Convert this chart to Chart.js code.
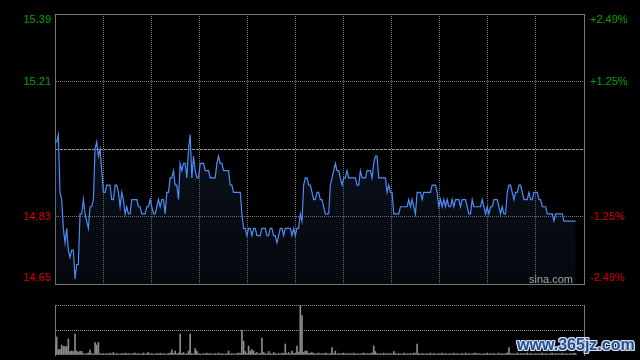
<!DOCTYPE html>
<html><head><meta charset="utf-8">
<script src="https://cdn.jsdelivr.net/npm/chart.js@4/dist/chart.umd.min.js"></script>
<style>
html,body{margin:0;padding:0;background:#000;width:640px;height:360px;overflow:hidden;}
#c1{position:absolute;left:0;top:0;}
#c2{position:absolute;left:0;top:300px;}
#wm{position:absolute;left:517px;top:336px;font:bold 16px "Liberation Sans",Arial,sans-serif;color:#1f4f98;
text-shadow:-1px -1px 0 #d8dee8,1px -1px 0 #d8dee8,-1px 1px 0 #d8dee8,1px 1px 0 #d8dee8,0 1px 0 #d8dee8,0 -1px 0 #d8dee8,1px 0 0 #d8dee8,-1px 0 0 #d8dee8;}
</style></head><body>
<canvas id="c1" width="640" height="300"></canvas>
<canvas id="c2" width="640" height="60"></canvas>
<div id="wm">www.365jz.com</div>
<script>
// ---- data ----
const prevClose = 15.02;
const priceTicks = [14.646, 14.833, 15.02, 15.207, 15.394];
const priceTickLabels = ['14.65', '14.83', '', '15.21', '15.39'];
const pctTickLabels = ['-2.49%', '-1.25%', '', '+1.25%', '+2.49%'];
const sessionMinutes = [0, 330];   // HK session length, grid every 30 min
const sessionStep = 30;
const volTicks = [0, 50, 100];
const slotCount = 318;
const slots = Array.from({length: slotCount}, (_, i) => String(i));

const prices = [
15.04,15.04,15.06,14.90,14.88,14.80,14.76,14.80,14.74,14.72,
14.74,14.74,14.66,14.70,14.70,14.84,14.84,14.88,14.84,14.82,
14.80,14.86,14.86,14.88,15.02,15.04,15.00,15.02,14.96,14.90,
14.90,14.92,14.92,14.92,14.88,14.88,14.92,14.92,14.90,14.86,
14.90,14.88,14.84,14.86,14.84,14.84,14.88,14.88,14.88,14.88,
14.86,14.86,14.84,14.84,14.84,14.86,14.86,14.88,14.86,14.84,
14.84,14.86,14.88,14.86,14.88,14.88,14.84,14.90,14.90,14.94,
14.94,14.96,14.92,14.92,14.88,14.98,14.96,14.98,14.98,14.94,
15.02,15.06,14.94,15.00,14.96,14.94,14.94,14.98,14.98,14.98,
14.96,14.96,14.96,14.94,14.94,14.94,14.94,14.98,15.00,14.98,
14.98,14.96,14.96,14.96,14.96,14.92,14.92,14.90,14.90,14.90,
14.90,14.90,14.84,14.80,14.80,14.78,14.80,14.80,14.78,14.80,
14.80,14.78,14.78,14.78,14.80,14.80,14.80,14.78,14.78,14.80,
14.80,14.78,14.78,14.76,14.78,14.80,14.80,14.78,14.80,14.80,
14.80,14.80,14.78,14.80,14.78,14.80,14.80,14.84,14.82,14.92,
14.94,14.94,14.92,14.92,14.90,14.88,14.88,14.90,14.90,14.88,
14.88,14.86,14.84,14.84,14.84,14.92,14.94,14.96,14.98,14.96,
14.96,14.94,14.92,14.94,14.94,14.96,14.94,14.94,14.94,14.94,
14.94,14.92,14.92,14.96,14.94,14.94,14.94,14.96,14.96,14.96,
14.94,14.98,15.00,15.00,14.94,14.94,14.94,14.94,14.94,14.90,
14.92,14.90,14.90,14.84,14.84,14.84,14.84,14.86,14.86,14.86,
14.86,14.86,14.88,14.86,14.88,14.86,14.84,14.90,14.90,14.90,
14.88,14.90,14.90,14.90,14.90,14.90,14.92,14.92,14.92,14.90,
14.86,14.88,14.86,14.88,14.86,14.88,14.86,14.86,14.88,14.86,
14.88,14.88,14.88,14.86,14.88,14.88,14.88,14.86,14.84,14.84,
14.88,14.86,14.86,14.86,14.86,14.86,14.88,14.86,14.84,14.86,
14.84,14.86,14.86,14.88,14.88,14.88,14.86,14.84,14.86,14.84,
14.84,14.90,14.92,14.92,14.90,14.88,14.90,14.90,14.92,14.92,
14.90,14.88,14.88,14.88,14.90,14.88,14.88,14.90,14.90,14.90,
14.88,14.88,14.86,14.86,14.86,14.84,14.84,14.84,14.84,14.82,
14.84,14.84,14.84,14.84,14.84,14.82,14.82,14.82,14.82,14.82,
14.82,14.82,14.82
];

const volumes = [
18,36,11,11,20,17,17,17,32,7,
8,7,42,8,5,8,7,3,2,3,
4,10,3,2,25,20,25,3,2,3,
2,3,2,4,2,5,2,3,2,2,
3,2,4,2,3,2,2,3,4,2,
3,2,2,4,2,3,5,2,3,2,
2,3,2,4,2,3,2,2,3,4,
10,3,8,2,4,42,3,5,2,3,
8,42,3,2,13,8,3,2,2,3,
2,4,2,3,2,2,3,2,4,2,
3,2,2,3,8,2,3,2,2,3,
4,3,50,28,7,3,18,8,11,8,
3,5,2,3,34,5,3,2,7,3,
2,5,3,2,3,2,4,3,22,3,
5,2,8,3,4,18,6,100,79,5,
8,8,3,4,5,3,2,3,4,2,
3,2,4,3,2,3,15,3,8,2,
3,2,3,4,2,3,2,3,2,4,
2,3,2,2,3,4,2,3,2,3,
4,18,7,3,2,3,2,4,2,3,
2,3,2,7,3,2,3,2,2,4,
2,3,2,3,2,4,3,22,3,2,
3,2,2,3,2,4,2,3,2,2,
3,2,4,2,3,2,2,3,2,4,
2,3,2,2,3,2,4,2,3,2,
2,3,4,2,3,2,2,3,2,4,
2,3,2,3,2,2,4,2,3,2,
3,4,15,3,2,3,2,4,2,3,
2,3,2,4,2,3,2,2,3,2,
3,2,4,2,3,2,2,3,4,2,
3,2,3,2,4,2,3,2,2,3,
2,4,3
];

// ---- styles ----
const upColor = '#00a400';
const downColor = '#e00000';
const frameColor = '#767676';
const dotColor = '#7a7a7a';
const FONT = '11px "Liberation Sans", Arial, sans-serif';

function priceDash(ctx) {
  if (!ctx.tick) return [];
  const v = ctx.tick.value;
  if (v === priceTicks[0] || v === priceTicks[priceTicks.length - 1]) return [];
  if (v === prevClose) return [3, 1];
  return [1, 1];
}
function priceGridColor(ctx) {
  if (!ctx.tick) return frameColor;
  const v = ctx.tick.value;
  if (v === priceTicks[0] || v === priceTicks[priceTicks.length - 1]) return frameColor;
  if (v === prevClose) return '#9a9a9a';
  return dotColor;
}
function timeDash(ctx) {
  if (!ctx.tick) return [];
  const v = ctx.tick.value;
  if (v === sessionMinutes[0] || v === sessionMinutes[1]) return [];
  return [1, 1];
}

const sideLabels = {
  id: 'sideLabels',
  afterDraw(chart) {
    const {ctx, chartArea, scales} = chart;
    const y = scales.y;
    ctx.save();
    ctx.font = FONT;
    ctx.textBaseline = 'middle';
    priceTicks.forEach((v, i) => {
      if (!priceTickLabels[i]) return;
      let py = y.getPixelForValue(v);
      py = Math.min(Math.max(py, chartArea.top + 6), chartArea.bottom - 6);
      ctx.fillStyle = v > prevClose ? upColor : downColor;
      ctx.textAlign = 'right';
      ctx.fillText(priceTickLabels[i], chartArea.left - 4, py);
      ctx.textAlign = 'left';
      ctx.fillText(pctTickLabels[i], chartArea.right + 6, py);
    });
    ctx.fillStyle = '#a4a4a4';
    ctx.textAlign = 'right';
    ctx.textBaseline = 'alphabetic';
    ctx.fillText('sina.com', chartArea.right - 11, chartArea.bottom - 1);
    ctx.restore();
  }
};

new Chart(document.getElementById('c1'), {
  type: 'line',
  data: {
    labels: slots,
    datasets: [{
      data: prices,
      borderColor: '#4b8df6',
      borderWidth: 1.2,
      pointRadius: 0,
      tension: 0,
      fill: 'start',
      backgroundColor: (c) => {
        const {ctx, chartArea} = c.chart;
        if (!chartArea) return 'rgba(40,70,120,0.2)';
        const g = ctx.createLinearGradient(0, chartArea.top, 0, chartArea.bottom);
        g.addColorStop(0, 'rgba(55,85,150,0.32)');
        g.addColorStop(1, 'rgba(30,45,80,0.16)');
        return g;
      }
    }]
  },
  options: {
    responsive: false,
    animation: false,
    devicePixelRatio: 1,
    layout: {padding: {top: 14, bottom: 16, left: 0, right: 0}},
    plugins: {legend: {display: false}, tooltip: {enabled: false}},
    scales: {
      x: {type: 'category', display: false},
      xt: {
        type: 'linear', position: 'bottom', min: sessionMinutes[0], max: sessionMinutes[1],
        ticks: {display: false, stepSize: sessionStep},
        grid: {color: (c) => (c.tick && (c.tick.value === sessionMinutes[0] || c.tick.value === sessionMinutes[1])) ? frameColor : dotColor, drawTicks: false, lineWidth: 1},
        border: {display: false, dash: timeDash},
        afterFit: (s) => { s.height = 0; }
      },
      y: {
        position: 'left', min: priceTicks[0], max: priceTicks[priceTicks.length - 1],
        afterBuildTicks: (s) => { s.ticks = priceTicks.map(v => ({value: v})); },
        ticks: {display: false},
        grid: {color: priceGridColor, drawTicks: false, lineWidth: 1},
        border: {display: true, color: frameColor, width: 1, dash: priceDash},
        afterFit: (s) => { s.width = 55; }
      },
      y2: {
        position: 'right', min: priceTicks[0], max: priceTicks[priceTicks.length - 1],
        afterBuildTicks: (s) => { s.ticks = priceTicks.map(v => ({value: v})); },
        ticks: {display: false},
        grid: {display: false},
        border: {display: true, color: frameColor, width: 1},
        afterFit: (s) => { s.width = 56; }
      }
    }
  },
  plugins: [sideLabels]
});

new Chart(document.getElementById('c2'), {
  type: 'bar',
  data: {
    labels: slots,
    datasets: [{
      data: volumes,
      backgroundColor: '#8c8c8c',
      barThickness: 1,
      categoryPercentage: 1,
      barPercentage: 1
    }]
  },
  options: {
    responsive: false,
    animation: false,
    devicePixelRatio: 1,
    layout: {padding: {top: 5, bottom: 5, left: 0, right: 0}},
    plugins: {legend: {display: false}, tooltip: {enabled: false}},
    scales: {
      x: {type: 'category', display: false, offset: false},
      y: {
        position: 'left', min: volTicks[0], max: volTicks[volTicks.length - 1],
        afterBuildTicks: (s) => { s.ticks = volTicks.map(v => ({value: v})); },
        ticks: {display: false},
        grid: {color: (c) => (c.tick && c.tick.value === volTicks[0]) ? 'rgba(0,0,0,0)' : '#8a8a8a', drawTicks: false},
        border: {display: true, color: frameColor, width: 1, dash: (c) => c.tick ? [1, 1] : []},
        afterFit: (s) => { s.width = 55; }
      },
      y2: {
        position: 'right', min: volTicks[0], max: volTicks[volTicks.length - 1],
        ticks: {display: false},
        grid: {display: false},
        border: {display: true, color: frameColor, width: 1},
        afterFit: (s) => { s.width = 56; }
      }
    }
  }
});
</script>
</body></html>
